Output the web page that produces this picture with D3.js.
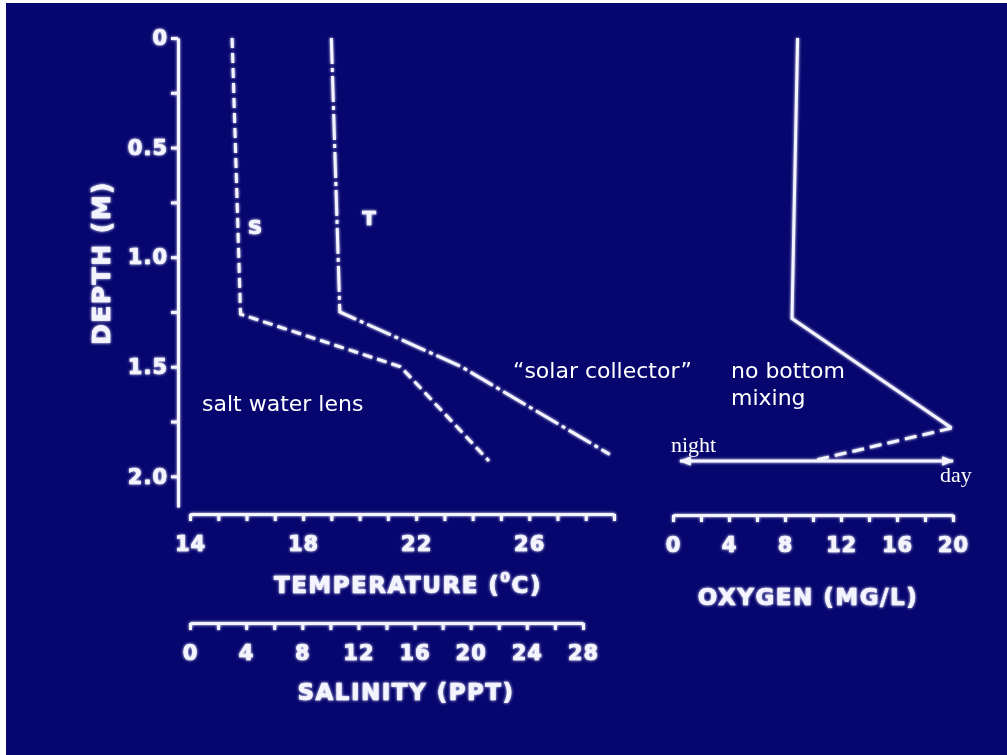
<!DOCTYPE html>
<html>
<head>
<meta charset="utf-8">
<script src="https://cdn.jsdelivr.net/npm/d3@7"></script>
<style>
  html, body { margin: 0; padding: 0; background: #ffffff; }
  svg { display: block; }
</style>
</head>
<body>
<script>
// depth profiles
var salDepth = [0, 1.26, 1.50, 1.93];
var salValue = [3.0, 3.6, 15.0, 21.3];

var tempDepth = [0, 1.25, 1.50, 1.90];
var tempValue = [19.0, 19.3, 23.6, 28.85];

var oxyDepth = [0, 1.28, 1.78];
var oxyValue = [8.9, 8.5, 19.9];
var oxyNightDepth = [1.78, 1.93];
var oxyNightValue = [19.9, 9.9];

var arrowDepth = 1.93;
var arrowRange = [0.5, 20];

var depthTicks = [0, 0.25, 0.5, 0.75, 1.0, 1.25, 1.5, 1.75, 2.0];
var depthLabels = [0, 0.5, 1.0, 1.5, 2.0];
var tempTicks = d3.range(14, 30, 1);
var tempLabels = [14, 18, 22, 26];
var salTicks = d3.range(0, 30, 2);
var salLabels = [0, 4, 8, 12, 16, 20, 24, 28];
var oxyTicks = d3.range(0, 22, 2);
var oxyLabels = [0, 4, 8, 12, 16, 20];

var width = 1007, height = 755;
var ink = "#f4f4ff";
var boldFont = "'DejaVu Sans', sans-serif";

var svg = d3.select("body").append("svg")
    .attr("width", width)
    .attr("height", height);

// glow filter
var defs = svg.append("defs");
var glow = defs.append("filter").attr("id", "glow")
    .attr("x", "-20%").attr("y", "-20%").attr("width", "140%").attr("height", "140%");
glow.append("feGaussianBlur").attr("stdDeviation", 1.6).attr("result", "b");
var merge = glow.append("feMerge");
merge.append("feMergeNode").attr("in", "b");
merge.append("feMergeNode").attr("in", "SourceGraphic");

defs.append("marker").attr("id", "arrow")
    .attr("viewBox", "0 0 10 10").attr("refX", 9).attr("refY", 5)
    .attr("markerWidth", 4).attr("markerHeight", 4).attr("orient", "auto-start-reverse")
    .append("path").attr("d", "M0,1L10,5L0,9z").attr("fill", ink);

// slide background
svg.append("rect").attr("x", 6).attr("y", 3)
    .attr("width", width - 6).attr("height", height - 3)
    .attr("fill", "#07066f");

var y = d3.scaleLinear().domain([0, 2.14]).range([38, 507]);
var xT = d3.scaleLinear().domain([14, 29]).range([190, 614]);
var xS = d3.scaleLinear().domain([0, 28]).range([190, 583]);
var xO = d3.scaleLinear().domain([0, 20]).range([673, 953]);

var g = svg.append("g").attr("filter", "url(#glow)");

function styleAxis(sel) {
    sel.select(".domain").attr("stroke", ink).attr("stroke-width", 3);
    sel.selectAll(".tick line").attr("stroke", ink).attr("stroke-width", 3);
    sel.selectAll(".tick text").attr("fill", ink)
        .attr("font-family", boldFont).attr("font-weight", "bold")
        .attr("font-size", 21).attr("stroke", ink).attr("stroke-width", 0.7)
        .attr("letter-spacing", 1);
}

function fmtOr(labels, fmt) {
    return function(d) {
        return labels.some(function(l) { return Math.abs(l - d) < 1e-6; }) ? fmt(d) : "";
    };
}

// depth axis
var yAxis = g.append("g").attr("transform", "translate(178,0)")
    .call(d3.axisLeft(y).tickValues(depthTicks).tickSize(7).tickSizeOuter(0)
        .tickPadding(3)
        .tickFormat(fmtOr(depthLabels, function(d) { return d === 0 ? "0" : d3.format(".1f")(d); })));
styleAxis(yAxis);

// temperature axis
var tAxis = g.append("g").attr("transform", "translate(0,514)")
    .call(d3.axisBottom(xT).tickValues(tempTicks).tickSize(7).tickSizeOuter(0)
        .tickPadding(15).tickFormat(fmtOr(tempLabels, d3.format("d"))));
styleAxis(tAxis);

// salinity axis
var sAxis = g.append("g").attr("transform", "translate(0,623)")
    .call(d3.axisBottom(xS).tickValues(salTicks).tickSize(7).tickSizeOuter(0)
        .tickPadding(15).tickFormat(fmtOr(salLabels, d3.format("d"))));
styleAxis(sAxis);

// oxygen axis
var oAxis = g.append("g").attr("transform", "translate(0,515)")
    .call(d3.axisBottom(xO).tickValues(oxyTicks).tickSize(7).tickSizeOuter(0)
        .tickPadding(15).tickFormat(fmtOr(oxyLabels, d3.format("d"))));
styleAxis(oAxis);

// axis titles
function title(x, yy, txt, size, rot) {
    var t = g.append("text")
        .attr("x", x).attr("y", yy)
        .attr("text-anchor", "middle")
        .attr("dominant-baseline", "central")
        .attr("font-family", boldFont).attr("font-weight", "bold")
        .attr("font-size", size).attr("fill", ink)
        .attr("stroke", ink).attr("stroke-width", 0.7)
        .attr("letter-spacing", 1.5)
        .text(txt);
    if (rot) t.attr("transform", "rotate(-90," + x + "," + yy + ")");
    return t;
}
var tt = title(408, 585, null, 23);
tt.append("tspan").text("TEMPERATURE (");
tt.append("tspan").attr("font-size", 14).attr("dy", -8).text("0");
tt.append("tspan").attr("dy", 8).text("C)");
title(406, 692, "SALINITY (PPT)", 23);
title(808, 597, "OXYGEN (MG/L)", 23);
title(101, 263, "DEPTH (M)", 25, true);

// profiles
var lineS = d3.line().x(function(d) { return xS(d[0]); }).y(function(d) { return y(d[1]); });
var lineT = d3.line().x(function(d) { return xT(d[0]); }).y(function(d) { return y(d[1]); });
var lineO = d3.line().x(function(d) { return xO(d[0]); }).y(function(d) { return y(d[1]); });

g.append("path").datum(d3.zip(salValue, salDepth))
    .attr("d", lineS).attr("fill", "none").attr("stroke", ink)
    .attr("stroke-width", 3).attr("stroke-dasharray", "10,5");

g.append("path").datum(d3.zip(tempValue, tempDepth))
    .attr("d", lineT).attr("fill", "none").attr("stroke", ink)
    .attr("stroke-width", 3).attr("stroke-dasharray", "26,4,4,4");

g.append("path").datum(d3.zip(oxyValue, oxyDepth))
    .attr("d", lineO).attr("fill", "none").attr("stroke", ink)
    .attr("stroke-width", 3);

g.append("path").datum(d3.zip(oxyNightValue, oxyNightDepth))
    .attr("d", lineO).attr("fill", "none").attr("stroke", ink)
    .attr("stroke-width", 3).attr("stroke-dasharray", "12,6");

// night / day arrow
g.append("line")
    .attr("x1", xO(arrowRange[0])).attr("x2", xO(arrowRange[1]))
    .attr("y1", y(arrowDepth)).attr("y2", y(arrowDepth))
    .attr("stroke", ink).attr("stroke-width", 3)
    .attr("marker-start", "url(#arrow)").attr("marker-end", "url(#arrow)");

// curve letters
g.append("text").attr("x", 255).attr("y", 227).attr("text-anchor", "middle")
    .attr("dominant-baseline", "central").attr("font-family", boldFont)
    .attr("font-weight", "bold").attr("font-size", 20).attr("fill", ink)
    .attr("stroke", ink).attr("stroke-width", 0.7).text("S");
g.append("text").attr("x", 369).attr("y", 218).attr("text-anchor", "middle")
    .attr("dominant-baseline", "central").attr("font-family", boldFont)
    .attr("font-weight", "bold").attr("font-size", 20).attr("fill", ink)
    .attr("stroke", ink).attr("stroke-width", 0.7).text("T");

// slide annotations
var note = svg.append("g").attr("fill", "#ffffff")
    .attr("font-family", "'DejaVu Sans', sans-serif").attr("font-size", 22);
note.append("text").attr("x", 202).attr("y", 411).text("salt water lens");
note.append("text").attr("x", 513).attr("y", 378).text("\u201csolar collector\u201d");
note.append("text").attr("x", 731).attr("y", 378).text("no bottom");
note.append("text").attr("x", 731).attr("y", 405).text("mixing");

var serif = svg.append("g").attr("fill", "#ffffff")
    .attr("font-family", "'Liberation Serif', serif").attr("font-size", 22);
serif.append("text").attr("x", 671).attr("y", 452).text("night");
serif.append("text").attr("x", 940).attr("y", 482).text("day");
</script>
</body>
</html>
